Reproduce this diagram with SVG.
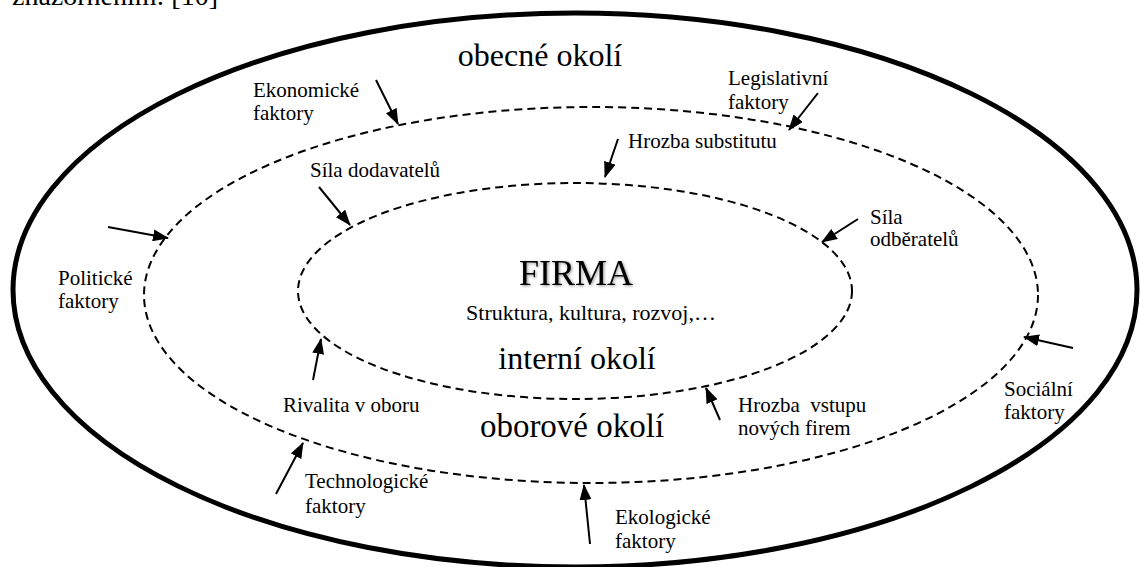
<svg xmlns="http://www.w3.org/2000/svg" width="1140" height="567" viewBox="0 0 1140 567">
  <style>
    .env-ring { fill: none; stroke: #000; }
    .env-dash { stroke-width: 2; stroke-dasharray: 8 5; }
    .influence { stroke: #000; stroke-width: 2; fill: none; marker-end: url(#head); }
  </style>
  <defs>
    <marker id="head" viewBox="0 0 16 12" refX="15" refY="6" markerWidth="16" markerHeight="12" markerUnits="userSpaceOnUse" orient="auto">
      <path d="M0,0 L16,6 L0,12 Z" fill="#000"/>
    </marker>
    <filter id="soft" x="-10%" y="-20%" width="120%" height="140%">
      <feGaussianBlur in="SourceAlpha" stdDeviation="1.5" result="b"/>
      <feOffset in="b" dx="1" dy="1" result="o"/>
      <feComponentTransfer in="o" result="s"><feFuncA type="linear" slope="0.45"/></feComponentTransfer>
      <feMerge><feMergeNode in="s"/><feMergeNode in="SourceGraphic"/></feMerge>
    </filter>
  </defs>
  <rect width="1140" height="567" fill="#fff"/>

  <!-- running text line above the figure -->
  <text style="font-family:'Liberation Serif',serif;font-size:28px" x="12" y="5">znázorněním: [10]</text>

  <!-- general environment -->
  <g id="obecne-okoli">
    <ellipse class="env-ring" cx="575" cy="290" rx="562" ry="277" stroke-width="5"/>
    <text style="font-family:'Liberation Serif',serif;font-size:32px" x="540" y="66" text-anchor="middle">obecné okolí</text>
  </g>

  <!-- industry environment -->
  <g id="oborove-okoli">
    <ellipse class="env-ring env-dash" cx="591" cy="295" rx="447" ry="188"/>
    <text style="font-family:'Liberation Serif',serif;font-size:33px" x="572" y="437" text-anchor="middle">oborové okolí</text>
  </g>

  <!-- internal environment / the firm -->
  <g id="firma">
    <ellipse class="env-ring env-dash" cx="575" cy="291" rx="277" ry="108"/>
    <text style="font-family:'Liberation Serif',serif;font-size:36px" x="576" y="285" text-anchor="middle" filter="url(#soft)">FIRMA</text>
    <text style="font-family:'Liberation Serif',serif;font-size:22px" x="591" y="320" text-anchor="middle">Struktura, kultura, rozvoj,…</text>
    <text style="font-family:'Liberation Serif',serif;font-size:32px" x="577" y="369" text-anchor="middle">interní okolí</text>
  </g>

  <!-- factor labels -->
  <g id="ekonomicke" style="font-family:'Liberation Serif',serif;font-size:21px">
    <text x="253" y="97">Ekonomické</text><text x="253" y="120">faktory</text>
  </g>
  <g id="legislativni" style="font-family:'Liberation Serif',serif;font-size:21px">
    <text x="728" y="85">Legislativní</text><text x="728" y="109">faktory</text>
  </g>
  <g id="hrozba-substitutu" style="font-family:'Liberation Serif',serif;font-size:21px">
    <text x="628" y="148">Hrozba substitutu</text>
  </g>
  <g id="sila-dodavatelu" style="font-family:'Liberation Serif',serif;font-size:21px">
    <text x="310" y="177">Síla dodavatelů</text>
  </g>
  <g id="sila-odberatelu" style="font-family:'Liberation Serif',serif;font-size:21px">
    <text x="870" y="224">Síla</text><text x="870" y="246">odběratelů</text>
  </g>
  <g id="politicke" style="font-family:'Liberation Serif',serif;font-size:21px">
    <text x="58" y="285">Politické</text><text x="58" y="308">faktory</text>
  </g>
  <g id="rivalita" style="font-family:'Liberation Serif',serif;font-size:21px">
    <text x="283" y="412">Rivalita v oboru</text>
  </g>
  <g id="hrozba-vstupu" style="font-family:'Liberation Serif',serif;font-size:21px">
    <text x="738" y="412" xml:space="preserve">Hrozba  vstupu</text><text x="738" y="435">nových firem</text>
  </g>
  <g id="socialni" style="font-family:'Liberation Serif',serif;font-size:21px">
    <text x="1004" y="396">Sociální</text><text x="1004" y="419">faktory</text>
  </g>
  <g id="technologicke" style="font-family:'Liberation Serif',serif;font-size:21px">
    <text x="305" y="488">Technologické</text><text x="305" y="513">faktory</text>
  </g>
  <g id="ekologicke" style="font-family:'Liberation Serif',serif;font-size:21px">
    <text x="615" y="524">Ekologické</text><text x="615" y="548">faktory</text>
  </g>

  <!-- influence arrows -->
  <g id="connectors">
    <line class="influence" x1="376" y1="80" x2="398" y2="124"/>
    <line class="influence" x1="818" y1="93" x2="789" y2="130"/>
    <line class="influence" x1="618" y1="139" x2="605" y2="177"/>
    <line class="influence" x1="319" y1="187" x2="350" y2="225"/>
    <line class="influence" x1="858" y1="219" x2="822" y2="242"/>
    <line class="influence" x1="108" y1="227" x2="168" y2="238"/>
    <line class="influence" x1="313" y1="380" x2="321" y2="339"/>
    <line class="influence" x1="720" y1="420" x2="706" y2="388"/>
    <line class="influence" x1="1073" y1="348" x2="1024" y2="337"/>
    <line class="influence" x1="276" y1="494" x2="303" y2="443"/>
    <line class="influence" x1="590" y1="544" x2="584" y2="485"/>
  </g>
</svg>
